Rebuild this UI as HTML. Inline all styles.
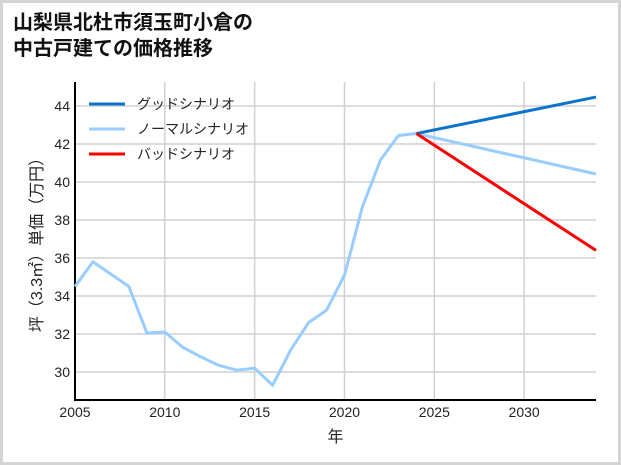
<!DOCTYPE html>
<html><head><meta charset="utf-8"><style>
body{margin:0;background:#fff}
#wrap{position:relative;width:615px;height:459px;border:3px solid #d4d4d4;background:#fff;overflow:hidden}
#title{position:absolute;left:10px;top:7px;font:bold 20px/26px "Liberation Sans","Noto Sans CJK JP",sans-serif;color:#111}
svg{position:absolute;left:-3px;top:-3px}
text{font-family:"Liberation Sans","Noto Sans CJK JP",sans-serif;fill:#222}
</style></head><body>
<div id="wrap">
<div id="title">山梨県北杜市須玉町小倉の<br>中古戸建ての価格推移</div>
<svg id="chart" width="621" height="465"></svg>
</div>
<script>
const years=[2005,2006,2007,2008,2009,2010,2011,2012,2013,2014,2015,2016,2017,2018,2019,2020,2021,2022,2023,2024];
const histValues=[34.5,35.8,35.15,34.5,32.05,32.1,31.3,30.8,30.35,30.1,30.2,29.3,31.15,32.6,33.25,35.1,38.7,41.15,42.45,42.55];
const projYears=[2024,2034];
const goodValues=[42.55,44.47];
const normalValues=[42.55,40.42];
const badValues=[42.55,36.4];
const xTicks=[2005,2010,2015,2020,2025,2030];
const yTicks=[30,32,34,36,38,40,42,44];
const legendLabels=["グッドシナリオ","ノーマルシナリオ","バッドシナリオ"];
const legendColors=["#0a74cc","#99ccff","#ff0000"];

const svg=document.getElementById('chart');
const NS='http://www.w3.org/2000/svg';
const L=75,R=596,T=82,B=400;
const x=v=>L+(v-2005)*(R-L)/29;
const y=v=>372-(v-30)*19;
function mk(tag,attrs){const e=document.createElementNS(NS,tag);for(const k in attrs)e.setAttribute(k,attrs[k]);svg.appendChild(e);return e;}
xTicks.forEach(t=>{
 const g=mk('line',{x1:x(t),x2:x(t),y1:T,y2:B,stroke:'#d0d0d0','stroke-width':1.5});
 
 
 const tx=mk('text',{x:x(t),y:B+17,'text-anchor':'middle','font-size':14});
 tx.textContent=t;
 
 
});
yTicks.forEach(t=>{
 const g=mk('line',{x1:L,x2:R,y1:y(t),y2:y(t),stroke:'#d0d0d0','stroke-width':1.5});
 
 
 const tx=mk('text',{x:L-5,y:y(t)+5,'text-anchor':'end','font-size':14});
 tx.textContent=t;
 
 
});
const ax=mk('path',{d:`M${L},${T} V${B} H${R}`,fill:'none',stroke:'#000','stroke-width':2});


function line(xs,vs,color,name){
 const p=mk('polyline',{points:xs.map((v,i)=>x(v)+','+y(vs[i])).join(' '),fill:'none',stroke:color,'stroke-width':3,'stroke-linejoin':'round'});
 
 
}
line(years,histValues,'#99ccff','historical-line');
line(projYears,normalValues,'#99ccff','normal-scenario-line');
line(projYears,goodValues,'#0a74cc','good-scenario-line');
line(projYears,badValues,'#ff0000','bad-scenario-line');
legendLabels.forEach((lab,i)=>{
 const yy=104+i*25;
 const l=mk('line',{x1:89,x2:125,y1:yy,y2:yy,stroke:legendColors[i],'stroke-width':3});
 
 
 const t=mk('text',{x:137,y:yy+5,'font-size':14});
 t.textContent=lab;
 
 
});
const xt=mk('text',{x:(L+R)/2,y:442,'text-anchor':'middle','font-size':16});
xt.textContent='年';


const yt=mk('text',{x:0,y:0,'text-anchor':'middle','font-size':16,transform:`translate(42,${(T+B)/2}) rotate(-90)`});
yt.textContent='坪（3.3㎡）単価（万円）';


</script>
</body></html>
